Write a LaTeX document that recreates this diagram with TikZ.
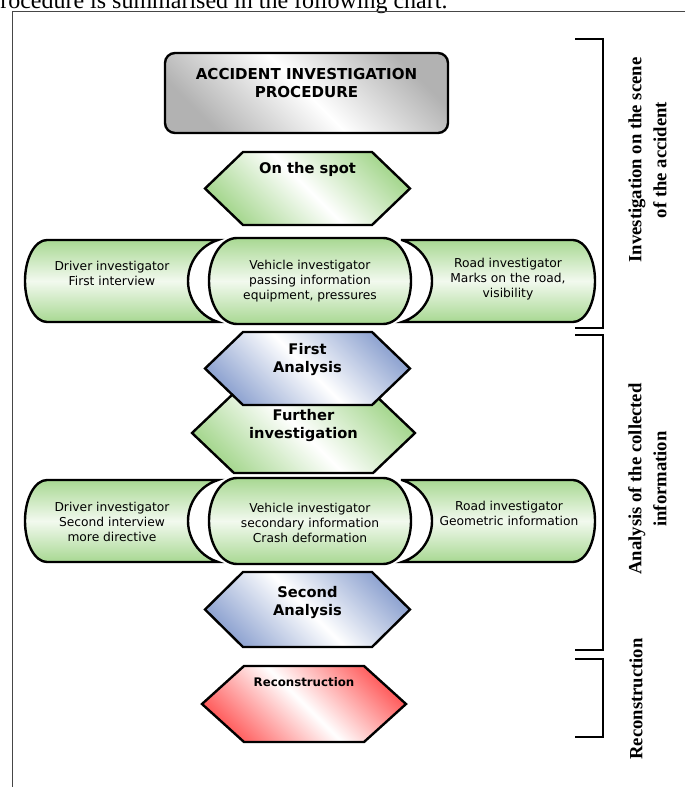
\documentclass[tikz,border=0pt]{standalone}
\usepackage{fontspec}
\setsansfont{DejaVu Sans}
\newfontfamily\phasefont{Liberation Serif}
\usepackage{xcolor}
\usepackage{tikz}
\usetikzlibrary{positioning}

\definecolor{spotgreen}{RGB}{168,216,146}
\definecolor{analysisblue}{RGB}{146,166,210}
\definecolor{reconred}{RGB}{255,96,96}
\definecolor{titlegrey}{RGB}{178,178,178}
\definecolor{framegrey}{RGB}{70,70,70}

\begin{document}
\begin{tikzpicture}[
    x=0.75pt, y=-0.75pt,
    outline/.style={draw=black, line width=1.8pt},
    diagshade/.style={top color=#1, bottom color=#1, middle color=white, shading angle=-45},
    rowshade/.style={top color=spotgreen, bottom color=spotgreen, middle color=spotgreen!15!white},
    titletext/.style={anchor=north, align=center, inner sep=0pt, font=\sffamily\bfseries\fontsize{11.3}{13.5}\selectfont},
    hextext/.style={anchor=north, align=center, inner sep=0pt, font=\sffamily\bfseries\fontsize{11}{13.8}\selectfont},
    sidetext/.style={anchor=north, align=center, inner sep=0pt, font=\sffamily\fontsize{9.2}{11.3}\selectfont},
    phasetext/.style={rotate=90, align=center, inner sep=0pt, font=\phasefont\bfseries\fontsize{14}{18.75}\selectfont},
    bracket/.style={draw=black, line width=1pt}
]
\useasboundingbox (0,0) rectangle (685,787);
\clip (0,0) rectangle (685,787);

% Page frame and the cut-off sentence above it.
\node[anchor=base west, inner sep=0pt, font=\phasefont\fontsize{18}{21}\selectfont] (header) at (-12,9) {procedure is summarised in the following chart.};
\draw[framegrey, line width=0.8pt] (685,11.7) -- (12.7,11.7) -- (12.7,787);

% Title box.
\path[outline, diagshade=titlegrey, rounded corners=7.5pt] (165,53) rectangle (448,133);
\node[titletext] (title) at (306.5,68.5) {ACCIDENT INVESTIGATION\\PROCEDURE};

% On the spot.
\path[outline, diagshade=spotgreen] (205,188.5) -- (243,152) -- (372,152) -- (410,188.5) -- (372,225) -- (243,225) -- cycle;
\node[hextext] (spot) at (307.5,162) {On the spot};

% Investigators, first round.
\path[outline, rowshade] (47,240) -- (218,240) arc[start angle=252.4, end angle=107.6, radius=43] -- (47,322) arc[start angle=90, end angle=270, x radius=22, y radius=41] -- cycle;
\path[outline, rowshade] (237,238) -- (383,238) arc[start angle=270, end angle=450, x radius=28, y radius=43] -- (237,324) arc[start angle=90, end angle=270, x radius=28, y radius=43] -- cycle;
\path[outline, rowshade] (402,240) -- (573,240) arc[start angle=270, end angle=450, x radius=22, y radius=41] -- (402,322) arc[start angle=72.4, end angle=-72.4, radius=43] -- cycle;
\node[sidetext] (drvA) at (112,261) {Driver investigator\\First interview};
\node[sidetext] (vehA) at (310,260) {Vehicle investigator\\passing information\\equipment, pressures};
\node[sidetext] (roadA) at (508,258) {Road investigator\\Marks on the road,\\visibility};

% Further investigation sits behind the first analysis.
\path[outline, diagshade=spotgreen] (192,433) -- (234,393) -- (373,393) -- (415,433) -- (373,473) -- (234,473) -- cycle;
\node[hextext] (further) at (303.5,408.6) {Further\\investigation};
\path[outline, diagshade=analysisblue] (205,368.5) -- (243,332) -- (372,332) -- (410,368.5) -- (372,405) -- (243,405) -- cycle;
\node[hextext] (firstan) at (307.5,342.6) {First\\Analysis};

% Investigators, second round.
\begin{scope}[shift={(0,240)}]
\path[outline, rowshade] (47,240) -- (218,240) arc[start angle=252.4, end angle=107.6, radius=43] -- (47,322) arc[start angle=90, end angle=270, x radius=22, y radius=41] -- cycle;
\path[outline, rowshade] (237,238) -- (383,238) arc[start angle=270, end angle=450, x radius=28, y radius=43] -- (237,324) arc[start angle=90, end angle=270, x radius=28, y radius=43] -- cycle;
\path[outline, rowshade] (402,240) -- (573,240) arc[start angle=270, end angle=450, x radius=22, y radius=41] -- (402,322) arc[start angle=72.4, end angle=-72.4, radius=43] -- cycle;
\end{scope}
\node[sidetext] (drvB) at (112,502) {Driver investigator\\Second interview\\more directive};
\node[sidetext] (vehB) at (310,503) {Vehicle investigator\\secondary information\\Crash deformation};
\node[sidetext] (roadB) at (509,501) {Road investigator\\Geometric information};

% Second analysis and reconstruction.
\path[outline, diagshade=analysisblue] (205,609.5) -- (243,572) -- (372,572) -- (410,609.5) -- (372,647) -- (243,647) -- cycle;
\node[hextext] (secondan) at (307.5,585.6) {Second\\Analysis};
\path[outline, diagshade=reconred] (202,704) -- (244,666) -- (364,666) -- (406,704) -- (364,742) -- (244,742) -- cycle;
\node[hextext, font=\sffamily\bfseries\fontsize{8.85}{11}\selectfont] (recon) at (304,677.7) {Reconstruction};

% Phase brackets on the right.
\draw[bracket] (575,39) -- (603,39) -- (603,328) -- (575,328);
\draw[bracket] (575,335) -- (603,335) -- (603,650) -- (575,650);
\draw[bracket] (575,659) -- (603,659) -- (603,737) -- (575,737);
\node[phasetext] (phaseA) at (647.5,160) {Investigation on the scene\\of the accident};
\node[phasetext] (phaseB) at (647.5,479) {Analysis of the collected\\information};
\node[phasetext] (phaseC) at (636,699) {Reconstruction};

\end{tikzpicture}
\end{document}
